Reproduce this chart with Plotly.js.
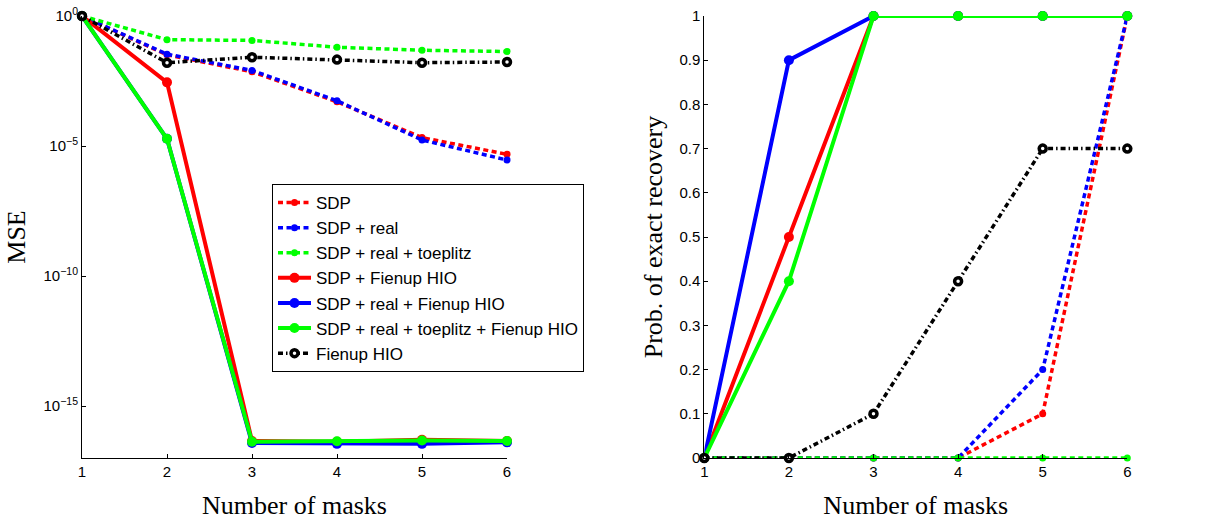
<!DOCTYPE html>
<html>
<head>
<meta charset="utf-8">
<script src="https://cdn.plot.ly/plotly-3.0.1.min.js"></script>
<style>html,body{margin:0;padding:0;background:#fff;}#chart{width:1225px;height:525px;}</style>
</head>
<body>
<div id="chart"></div>
<script>
// ---- data ----
const masks = [1, 2, 3, 4, 5, 6];
const seriesNames = [
  "SDP",
  "SDP + real",
  "SDP + real + toeplitz",
  "SDP + Fienup HIO",
  "SDP + real + Fienup HIO",
  "SDP + real + toeplitz + Fienup HIO",
  "Fienup HIO"
];
// MSE (left panel, log scale)
const mseSDP            = [1, 3.2e-2, 7.2e-3, 5.0e-4, 2.1e-5, 4.8e-6];
const mseSDPReal        = [1, 3.4e-2, 8.1e-3, 5.5e-4, 1.7e-5, 2.9e-6];
const mseSDPRealToep    = [1, 0.123, 0.115, 0.063, 0.048, 0.043];
const mseSDPFienup      = [1, 2.8e-3, 4.5e-17, 4.2e-17, 5.0e-17, 4.5e-17];
const mseSDPRealFienup  = [1, 1.9e-5, 3.8e-17, 3.5e-17, 3.5e-17, 4.0e-17];
const mseSDPRealToepFienup = [1, 1.9e-5, 4.2e-17, 4.4e-17, 4.7e-17, 4.5e-17];
const mseFienup         = [1, 1.6e-2, 2.6e-2, 2.1e-2, 1.6e-2, 1.7e-2];
// Probability of exact recovery (right panel)
const probSDP            = [0, 0, 0, 0, 0.1, 1];
const probSDPReal        = [0, 0, 0, 0, 0.2, 1];
const probSDPRealToep    = [0, 0, 0, 0, 0, 0];
const probSDPFienup      = [0, 0.5, 1, 1, 1, 1];
const probSDPRealFienup  = [0, 0.9, 1, 1, 1, 1];
const probSDPRealToepFienup = [0, 0.4, 1, 1, 1, 1];
const probFienup         = [0, 0, 0.1, 0.4, 0.7, 0.7];
// tick labels
const mseTickVals = [1, 1e-5, 1e-10, 1e-15];
const mseTickText = ["10<sup>0</sup>", "10<sup>−5</sup>", "10<sup>−10</sup>", "10<sup>−15</sup>"];
const probTickVals = [0, 0.1, 0.2, 0.3, 0.4, 0.5, 0.6, 0.7, 0.8, 0.9, 1];
const probTickText = ["0", "0.1", "0.2", "0.3", "0.4", "0.5", "0.6", "0.7", "0.8", "0.9", "1"];

const mseSeries = [mseSDP, mseSDPReal, mseSDPRealToep, mseSDPFienup, mseSDPRealFienup, mseSDPRealToepFienup, mseFienup];
const probSeries = [probSDP, probSDPReal, probSDPRealToep, probSDPFienup, probSDPRealFienup, probSDPRealToepFienup, probFienup];

// ---- styles ----
const colors = ["#ff0000", "#0000ff", "#00ff00", "#ff0000", "#0000ff", "#00ff00", "#000000"];
const dotted = "5px,3.5px";
const dashdot = "5px,3px,1.5px,3px";
function styleFor(i) {
  if (i < 3) return {line: {color: colors[i], width: 3.5, dash: dotted},
                      marker: {color: colors[i], size: 7, symbol: "circle"}};
  if (i < 6) return {line: {color: colors[i], width: 4, dash: "solid"},
                      marker: {color: colors[i], size: 10, symbol: "circle"}};
  return {line: {color: "#000000", width: 3.5, dash: dashdot},
          marker: {color: "#ffffff", size: 7, symbol: "circle", line: {color: "#000000", width: 3.5}}};
}

const traces = [];
seriesNames.forEach((name, i) => {
  const s = styleFor(i);
  traces.push({x: masks, y: mseSeries[i], name: name, type: "scatter", mode: "lines+markers",
    line: s.line, marker: s.marker, xaxis: "x", yaxis: "y", showlegend: true, cliponaxis: false});
});
seriesNames.forEach((name, i) => {
  const s = styleFor(i);
  traces.push({x: masks, y: probSeries[i], name: name, type: "scatter", mode: "lines+markers",
    line: s.line, marker: s.marker, xaxis: "x2", yaxis: "y2", showlegend: false, cliponaxis: false});
});

const tickFont = {family: "Liberation Sans, Arial, sans-serif", size: 15, color: "#000"};
const titleFont = {family: "Liberation Serif, Times New Roman, serif", size: 26, color: "#000"};
const yDom = [1 - 458 / 525, 1 - 16 / 525];

const commonX = {range: [1, 6], tickvals: masks, ticktext: masks.map(String), showline: true, linecolor: "#000",
  linewidth: 1, ticks: "inside", ticklen: 4, tickcolor: "#000", showgrid: false, zeroline: false,
  tickfont: tickFont, automargin: false, fixedrange: true};

const layout = {
  width: 1225, height: 525,
  margin: {l: 0, r: 0, t: 0, b: 0},
  paper_bgcolor: "#fff", plot_bgcolor: "#fff",
  showlegend: true,
  legend: {x: 272 / 1225, y: 1 - 184 / 525, xanchor: "left", yanchor: "top",
    bordercolor: "#000", borderwidth: 1, bgcolor: "#fff",
    font: {family: "Liberation Sans, Arial, sans-serif", size: 17, color: "#000"},
    tracegroupgap: 0, itemwidth: 33},
  xaxis: Object.assign({}, commonX, {domain: [82 / 1225, 507 / 1225], anchor: "y",
    title: {text: "Number of masks", font: titleFont, standoff: 16}}),
  yaxis: {domain: yDom, type: "log", range: [-17, 0], tickvals: mseTickVals, ticktext: mseTickText,
    showline: true, linecolor: "#000", linewidth: 1, ticks: "inside", ticklen: 4, tickcolor: "#000",
    showgrid: false, zeroline: false, tickfont: tickFont, automargin: false, anchor: "x",
    title: {text: "MSE", font: titleFont, standoff: 10}, fixedrange: true},
  xaxis2: Object.assign({}, commonX, {domain: [704.3 / 1225, 1127.3 / 1225], anchor: "y2",
    title: {text: "Number of masks", font: titleFont, standoff: 16}}),
  yaxis2: {domain: yDom, range: [0, 1], tickvals: probTickVals, ticktext: probTickText,
    showline: true, linecolor: "#000", linewidth: 1, ticks: "inside", ticklen: 4, tickcolor: "#000",
    showgrid: false, zeroline: false, tickfont: tickFont, automargin: false, anchor: "x2",
    title: {text: "Prob. of exact recovery", font: titleFont, standoff: 9}, fixedrange: true}
};

Plotly.newPlot("chart", traces, layout, {staticPlot: true, displayModeBar: false});
</script>
</body>
</html>
